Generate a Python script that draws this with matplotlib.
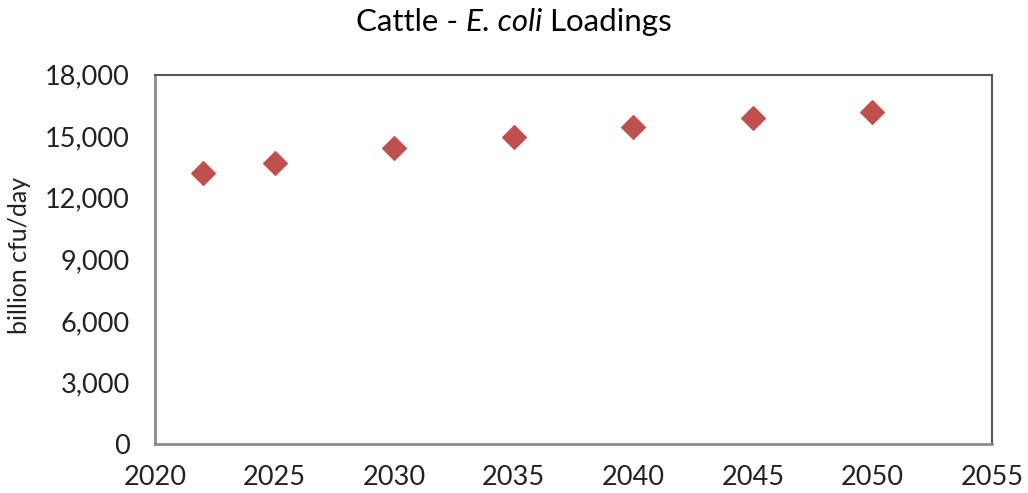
import matplotlib
matplotlib.use("Agg")
import matplotlib.pyplot as plt
from matplotlib.ticker import FuncFormatter

# data
years = [2022, 2025, 2030, 2035, 2040, 2045, 2050]
loadings = [13220, 13710, 14410, 14960, 15470, 15900, 16170]

plt.rcParams['font.family'] = ['Lato', 'DejaVu Sans']

fig = plt.figure(figsize=(10.28, 4.93), dpi=100)
ax = fig.add_axes([0.1508, 0.0994, 0.8142, 0.7491])

ax.scatter(years, loadings, marker='D', s=145, color='#C0504D', zorder=3)

ax.set_xlim(2020, 2055)
ax.set_ylim(0, 18000)
ax.set_xticks(range(2020, 2056, 5))
ax.set_yticks(range(0, 18001, 3000))
ax.yaxis.set_major_formatter(FuncFormatter(lambda v, p: f"{int(v):,}"))
ax.tick_params(length=0, labelsize=19.5, colors='#222222')
ax.tick_params(axis='y', pad=18)
ax.tick_params(axis='x', pad=15)

for side in ['top', 'right']:
    ax.spines[side].set_color('#555555')
    ax.spines[side].set_linewidth(1.5)
for side in ['left', 'bottom']:
    ax.spines[side].set_color('#8c8c8c')
    ax.spines[side].set_linewidth(2)

fig.text(20 / 1028, 1 - 255 / 493, 'billion cfu/day', rotation=90, ha='center', va='center',
         fontsize=18, color='#222222')

# title with italic species name, built from pieces
parts = [('Cattle - ', 'normal'), ('E. coli', 'italic'), (' Loadings', 'normal')]
renderer = fig.canvas.get_renderer()
texts = []
for s, style in parts:
    t = fig.text(0, 1 - 22 / 493, s, fontsize=22.5, fontstyle=style, va='center', ha='left',
                 color='#000000')
    texts.append(t)
widths = [t.get_window_extent(renderer).width for t in texts]
x = (1028 - sum(widths)) / 2
for t, w in zip(texts, widths):
    t.set_x(x / 1028)
    x += w

fig.savefig('out.png', dpi=100)
